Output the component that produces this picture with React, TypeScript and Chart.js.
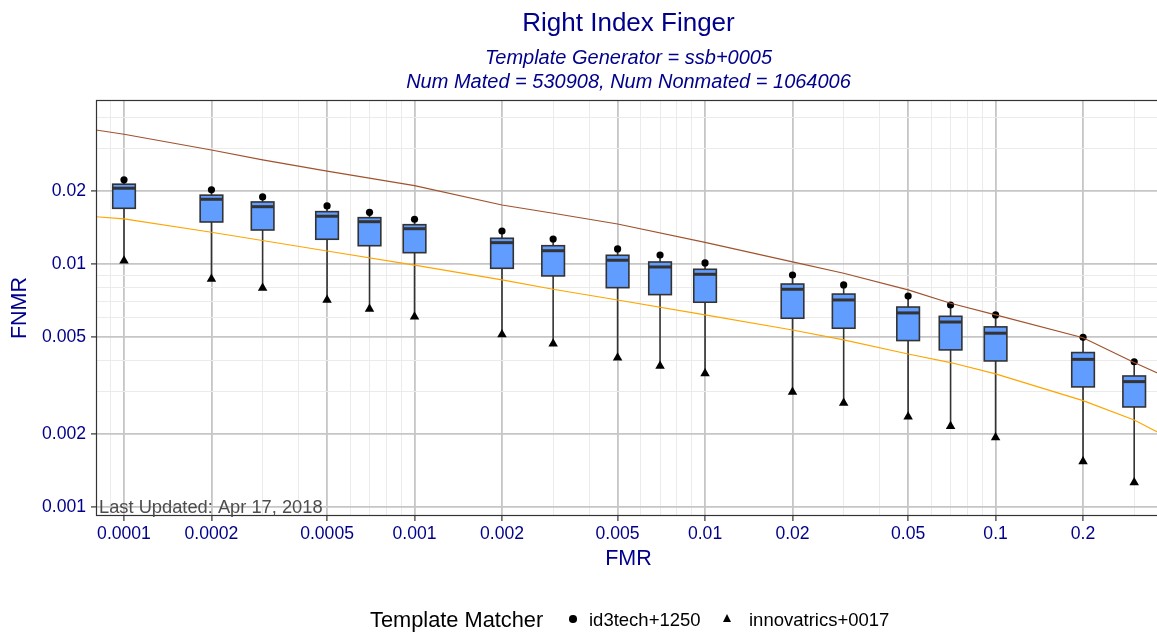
import React, { useEffect, useRef } from 'react';
import { Chart, registerables } from 'chart.js';

Chart.register(...registerables);

// ---- Data ----
const boxFMR = [0.0001, 0.0002, 0.0003, 0.0005, 0.0007, 0.001, 0.002, 0.003, 0.005, 0.007, 0.01, 0.02, 0.03, 0.05, 0.07, 0.1, 0.2, 0.3];
const id3techFNMR = [0.0222, 0.0202, 0.01887, 0.01733, 0.01632, 0.01528, 0.01367, 0.01267, 0.01153, 0.01089, 0.0101, 0.00901, 0.0082, 0.00738, 0.00678, 0.00617, 0.00499, 0.00396];
const innovatricsFNMR = [0.0103, 0.00868, 0.00796, 0.00711, 0.00653, 0.00606, 0.00513, 0.0047, 0.00411, 0.0038, 0.00354, 0.00297, 0.00268, 0.00235, 0.00215, 0.00193, 0.00154, 0.00126];
const boxQ3 = [0.0213, 0.0192, 0.018, 0.01642, 0.01551, 0.01451, 0.01276, 0.01189, 0.01086, 0.01019, 0.00951, 0.00827, 0.00752, 0.00665, 0.00609, 0.00551, 0.00432, 0.00346];
const boxMedian = [0.0205, 0.01846, 0.01721, 0.01572, 0.01493, 0.01397, 0.01224, 0.01134, 0.01036, 0.00972, 0.00907, 0.00787, 0.00711, 0.00629, 0.00577, 0.00519, 0.00405, 0.00328];
const boxQ1 = [0.01695, 0.01489, 0.0138, 0.01264, 0.01189, 0.01113, 0.0096, 0.00893, 0.00799, 0.00748, 0.00696, 0.00598, 0.00544, 0.00484, 0.00443, 0.00399, 0.00312, 0.00258];

const brownFMR = [0.00008, 0.0001, 0.0002, 0.0003, 0.0005, 0.001, 0.002, 0.003, 0.005, 0.01, 0.02, 0.03, 0.05, 0.07, 0.1, 0.2, 0.3, 0.359, 0.371];
const brownFNMR = [0.0356, 0.0342, 0.02945, 0.0268, 0.0241, 0.021, 0.01749, 0.01617, 0.01461, 0.01228, 0.0102, 0.00916, 0.00782, 0.00689, 0.00617, 0.00497, 0.00393, 0.00357, 0.00352];

const orangeFMR = [0.00008, 0.0001, 0.0002, 0.0005, 0.001, 0.002, 0.003, 0.005, 0.01, 0.02, 0.03, 0.05, 0.07, 0.1, 0.2, 0.3, 0.359, 0.371];
const orangeFNMR = [0.01565, 0.01532, 0.01351, 0.01131, 0.0099, 0.0086, 0.00787, 0.00711, 0.00617, 0.00535, 0.00487, 0.00426, 0.00393, 0.00353, 0.00274, 0.00228, 0.00204, 0.00201];

const xMajorTicks = [0.0001, 0.0002, 0.0005, 0.001, 0.002, 0.005, 0.01, 0.02, 0.05, 0.1, 0.2];
const xTickLabels = ['0.0001', '0.0002', '0.0005', '0.001', '0.002', '0.005', '0.01', '0.02', '0.05', '0.1', '0.2'];
const xMinorTicks = [0.00009, 0.0003, 0.0004, 0.0006, 0.0007, 0.0008, 0.0009, 0.003, 0.004, 0.006, 0.007, 0.008, 0.009, 0.03, 0.04, 0.06, 0.07, 0.08, 0.09, 0.3];
const yMajorTicks = [0.001, 0.002, 0.005, 0.01, 0.02];
const yTickLabels = ['0.001', '0.002', '0.005', '0.01', '0.02'];
const yMinorTicks = [0.003, 0.004, 0.006, 0.007, 0.008, 0.009, 0.03, 0.04];

const FONT = "'Liberation Sans', Arial, Helvetica, sans-serif";
const BLUE = '#00008B';

const findIdx = (v: number, arr: number[]) => arr.findIndex((a) => Math.abs(a - v) / a < 1e-6);

const boxPlugin = {
  id: 'boxes',
  beforeDatasetsDraw(chart: any) {
    const { ctx, chartArea: a } = chart;
    const xs = chart.scales.x;
    const ys = chart.scales.y;
    ctx.save();
    ctx.beginPath();
    ctx.rect(a.left, a.top, a.right - a.left, a.bottom - a.top);
    ctx.clip();
    const hw = 11.3;
    for (let i = 0; i < boxFMR.length; i++) {
      const px = xs.getPixelForValue(boxFMR[i]);
      const yHi = ys.getPixelForValue(id3techFNMR[i]);
      const yLo = ys.getPixelForValue(innovatricsFNMR[i]);
      const y3 = ys.getPixelForValue(boxQ3[i]);
      const y1 = ys.getPixelForValue(boxQ1[i]);
      const ym = ys.getPixelForValue(boxMedian[i]);
      ctx.strokeStyle = '#333333';
      ctx.lineWidth = 1.6;
      ctx.beginPath();
      ctx.moveTo(px, yHi);
      ctx.lineTo(px, yLo);
      ctx.stroke();
      ctx.fillStyle = '#619CFF';
      ctx.fillRect(px - hw, y3, hw * 2, y1 - y3);
      ctx.strokeRect(px - hw, y3, hw * 2, y1 - y3);
      ctx.lineWidth = 3;
      ctx.beginPath();
      ctx.moveTo(px - hw, ym);
      ctx.lineTo(px + hw, ym);
      ctx.stroke();
    }
    ctx.restore();
  },
};

const framePlugin = {
  id: 'frame',
  afterDatasetsDraw(chart: any) {
    const { ctx, chartArea: a } = chart;
    ctx.save();
    ctx.strokeStyle = '#333333';
    ctx.lineWidth = 1.2;
    ctx.strokeRect(a.left + 0.5, a.top + 0.5, a.right - a.left - 1, a.bottom - a.top - 1);
    ctx.fillStyle = '#4D4D4D';
    ctx.font = `18.3px ${FONT}`;
    ctx.textBaseline = 'alphabetic';
    ctx.textAlign = 'left';
    ctx.fillText('Last Updated: Apr 17, 2018', a.left + 3, a.bottom - 3);
    ctx.restore();
  },
};

export default function App() {
  const ref = useRef<HTMLCanvasElement>(null);

  useEffect(() => {
    const canvas = ref.current;
    if (!canvas) return;
    const xAll = [...xMajorTicks, ...xMinorTicks].sort((a, b) => a - b);
    const yAll = [...yMajorTicks, ...yMinorTicks].sort((a, b) => a - b);
    const chart = new Chart(canvas, {
      type: 'scatter',
      data: {
        datasets: [
          {
            type: 'line',
            label: 'upper',
            data: brownFMR.map((x, i) => ({ x, y: brownFNMR[i] })),
            borderColor: '#A0522D',
            borderWidth: 1.2,
            pointRadius: 0,
            fill: false,
            tension: 0,
          } as any,
          {
            type: 'line',
            label: 'lower',
            data: orangeFMR.map((x, i) => ({ x, y: orangeFNMR[i] })),
            borderColor: '#FFA500',
            borderWidth: 1.2,
            pointRadius: 0,
            fill: false,
            tension: 0,
          } as any,
          {
            label: 'id3tech+1250',
            data: boxFMR.map((x, i) => ({ x, y: id3techFNMR[i] })),
            pointStyle: 'circle',
            pointRadius: 3.6,
            backgroundColor: '#000000',
            borderColor: '#000000',
            borderWidth: 0,
          },
          {
            label: 'innovatrics+0017',
            data: boxFMR.map((x, i) => ({ x, y: innovatricsFNMR[i] })),
            pointStyle: 'triangle',
            pointRadius: 5.5,
            backgroundColor: '#000000',
            borderColor: '#000000',
            borderWidth: 0,
          },
        ],
      },
      options: {
        animation: false,
        responsive: false,
        devicePixelRatio: 1,
        layout: { autoPadding: false, padding: { top: 0, left: 0, right: 0, bottom: 57 } },
        plugins: {
          legend: { display: false },
          tooltip: { enabled: false },
          title: {
            display: true,
            fullSize: false,
            text: 'Right Index Finger',
            color: BLUE,
            font: { family: FONT, size: 26, weight: 'normal', lineHeight: 1.2 },
            padding: { top: 8.4, bottom: 4 },
          },
          subtitle: {
            display: true,
            fullSize: false,
            text: ['Template Generator = ssb+0005', 'Num Mated = 530908, Num Nonmated = 1064006'],
            color: BLUE,
            font: { family: FONT, size: 20, style: 'italic', weight: 'normal', lineHeight: 1.165 },
            padding: { top: 3.5, bottom: 6.3 },
          },
        },
        scales: {
          x: {
            type: 'logarithmic',
            min: 0.0000801,
            max: 0.371,
            bounds: 'data',
            afterBuildTicks: (s: any) => {
              s.ticks = xAll.map((v) => ({ value: v }));
            },
            afterFit: (s: any) => {
              s.height = 60;
            },
            ticks: {
              autoSkip: false,
              maxRotation: 0,
              minRotation: 0,
              padding: 3,
              color: BLUE,
              font: { family: FONT, size: 17.6 },
              major: { enabled: false },
              callback: (v: any) => {
                const i = findIdx(Number(v), xMajorTicks);
                return i >= 0 ? xTickLabels[i] : '';
              },
            },
            grid: {
              color: (c: any) => (c.tick && findIdx(c.tick.value, xMajorTicks) >= 0 ? '#C6C6C6' : '#EBEBEB'),
              lineWidth: (c: any) => (c.tick && findIdx(c.tick.value, xMajorTicks) >= 0 ? 1.8 : 1),
              tickColor: (c: any) => (c.tick && findIdx(c.tick.value, xMajorTicks) >= 0 ? '#333333' : 'rgba(0,0,0,0)'),
              tickWidth: 1.2,
              tickLength: 5,
              drawTicks: true,
            },
            border: { display: false },
            title: {
              display: true,
              text: 'FMR',
              color: BLUE,
              font: { family: FONT, size: 21.5, lineHeight: 1.2 },
              padding: { top: 0, bottom: 4.3 },
            },
          } as any,
          y: {
            type: 'logarithmic',
            min: 0.000918,
            max: 0.0473,
            bounds: 'data',
            afterBuildTicks: (s: any) => {
              s.ticks = yAll.map((v) => ({ value: v }));
            },
            afterFit: (s: any) => {
              s.width = 96;
            },
            ticks: {
              autoSkip: false,
              padding: 5,
              color: BLUE,
              font: { family: FONT, size: 17.6 },
              major: { enabled: false },
              callback: (v: any) => {
                const i = findIdx(Number(v), yMajorTicks);
                return i >= 0 ? yTickLabels[i] : '';
              },
            },
            grid: {
              color: (c: any) => (c.tick && findIdx(c.tick.value, yMajorTicks) >= 0 ? '#C6C6C6' : '#EBEBEB'),
              lineWidth: (c: any) => (c.tick && findIdx(c.tick.value, yMajorTicks) >= 0 ? 1.8 : 1),
              tickColor: (c: any) => (c.tick && findIdx(c.tick.value, yMajorTicks) >= 0 ? '#333333' : 'rgba(0,0,0,0)'),
              tickWidth: 1.2,
              tickLength: 5,
              drawTicks: true,
            },
            border: { display: false },
            title: {
              display: true,
              text: 'FNMR',
              color: BLUE,
              font: { family: FONT, size: 21.5, lineHeight: 1.2 },
              padding: { top: 7, bottom: 0 },
            },
          } as any,
        },
      },
      plugins: [boxPlugin, framePlugin],
    });
    return () => chart.destroy();
  }, []);

  const legendText: React.CSSProperties = {
    position: 'absolute',
    fontFamily: FONT,
    color: '#000',
    whiteSpace: 'nowrap',
    lineHeight: '24px',
  };

  return (
    <div style={{ position: 'absolute', left: 0, top: 0, width: 1157, height: 633, overflow: 'hidden', background: '#fff' }}>
      <canvas ref={ref} width={1161} height={633} style={{ display: 'block', width: 1161, height: 633 }} />
      <div style={{ ...legendText, left: 370, top: 607.5, fontSize: 21.8 }}>Template Matcher</div>
      <div style={{ position: 'absolute', left: 569.2, top: 615, width: 7.6, height: 7.6, borderRadius: '50%', background: '#000' }} />
      <div style={{ ...legendText, left: 589, top: 608.3, fontSize: 18.5 }}>id3tech+1250</div>
      <div
        style={{
          position: 'absolute',
          left: 722.8,
          top: 613.5,
          width: 0,
          height: 0,
          borderLeft: '4.6px solid transparent',
          borderRight: '4.6px solid transparent',
          borderBottom: '8px solid #000',
        }}
      />
      <div style={{ ...legendText, left: 749, top: 608.3, fontSize: 18.5 }}>innovatrics+0017</div>
    </div>
  );
}
